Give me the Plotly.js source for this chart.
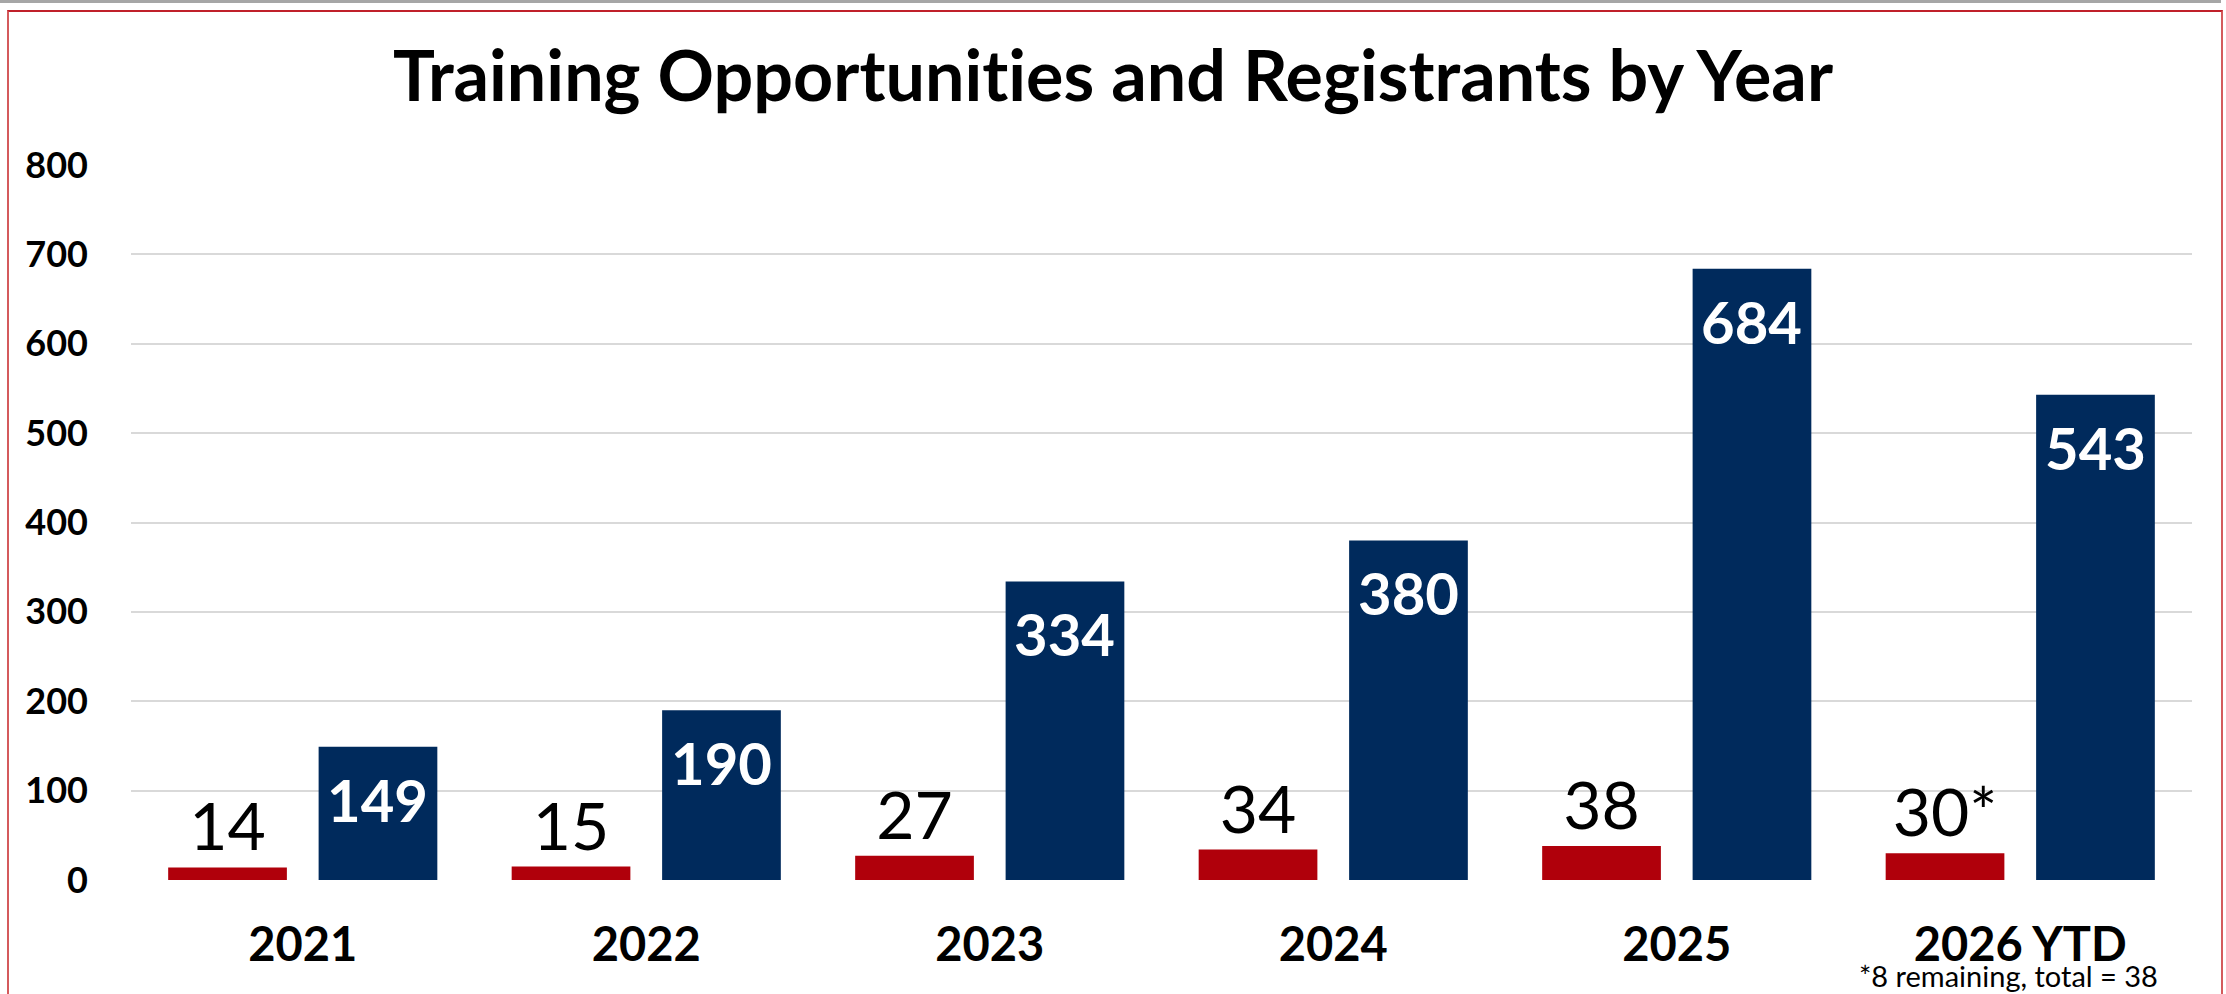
<!DOCTYPE html>
<html>
<head>
<meta charset="utf-8">
<script src="https://cdn.plot.ly/plotly-3.0.1.min.js"></script>
<style>
  html, body { margin: 0; padding: 0; background: #ffffff; overflow: hidden; }
  #topbar { position: absolute; left: 0; top: 0; width: 2221px; height: 3px; background: #A6A6A6; }
  #frame { position: absolute; left: 7px; top: 10px; width: 2212px; height: 1000px;
           border-left: 2px solid #D45A5C; border-right: 2px solid #D45A5C; border-top: 2px solid #C0202A; }
  #chart { position: absolute; left: 0; top: 0; width: 2226px; height: 994px; }
  svg text { font-variant-ligatures: none; font-feature-settings: "liga" 0, "clig" 0; }
</style>
</head>
<body>
<div id="topbar"></div>
<div id="frame"></div>
<div id="chart"></div>
<script>
const categories = ['2021', '2022', '2023', '2024', '2025', '2026 YTD'];
const opportunities = [14, 15, 27, 34, 38, 30];
const opportunityNotes = ['', '', '', '', '', '*'];
const registrants = [149, 190, 334, 380, 684, 543];
const yTicks = [0, 100, 200, 300, 400, 500, 600, 700, 800];
const chartTitle = 'Training Opportunities and Registrants by Year';
const footnote = '*8 remaining, total = 38';

const FONT = 'Lato, "Open Sans", sans-serif';

const W = 2226, H = 994;
const M = { l: 131, r: 34, t: 165, b: 114, pad: 0 };
const BARGAP = 0.124;

// horizontal offset of the second bar in each group, derived from the layout
const catWidth = (W - M.l - M.r) / categories.length;
const slotWidth = catWidth * (1 - BARGAP) / 2;
const groupShift = slotWidth / 2;

const traces = [
  {
    type: 'bar',
    name: 'Training Opportunities',
    x: categories,
    y: opportunities,
    text: opportunities.map((v, i) => String(v) + opportunityNotes[i]),
    textposition: 'outside',
    constraintext: 'none',
    cliponaxis: false,
    textfont: { family: FONT, size: 66, color: '#000000' },
    marker: { color: '#B0000B' },
    hoverinfo: 'x+y'
  },
  {
    type: 'bar',
    name: 'Registrants',
    x: categories,
    y: registrants,
    textposition: 'none',
    marker: { color: '#002A5C' },
    hoverinfo: 'x+y'
  }
];

const valueLabels = categories.map((c, i) => ({
  text: '<b>' + registrants[i] + '</b>',
  xref: 'x', yref: 'y',
  x: i, y: registrants[i],
  xanchor: 'center', yanchor: 'top',
  xshift: groupShift, yshift: -16,
  showarrow: false,
  font: { family: FONT, size: 58, color: '#FFFFFF' }
}));

const layout = {
  width: W,
  height: H,
  margin: M,
  paper_bgcolor: 'rgba(0,0,0,0)',
  plot_bgcolor: 'rgba(0,0,0,0)',
  showlegend: false,
  barmode: 'group',
  bargap: BARGAP,
  bargroupgap: 0.211,
  title: {
    text: '<b>' + chartTitle + '</b>',
    font: { family: FONT, size: 70, color: '#000000' },
    x: 0.5, xanchor: 'center',
    y: 0.9235, yanchor: 'middle'
  },
  xaxis: {
    type: 'category',
    categoryorder: 'array',
    categoryarray: categories,
    range: [-0.5, categories.length - 0.5],
    autorange: false,
    tickfont: { family: FONT, size: 47, color: '#000000', weight: 'bold' },
    ticks: '',
    ticklabelstandoff: 33,
    showgrid: false,
    zeroline: false,
    showline: false,
    fixedrange: true
  },
  yaxis: {
    range: [0, 800],
    autorange: false,
    tickvals: yTicks,
    ticktext: yTicks.map(String),
    tickfont: { family: FONT, size: 36, color: '#000000', weight: 'bold' },
    ticks: '',
    ticklabelstandoff: 42,
    showgrid: true,
    gridcolor: '#D9D9D9',
    gridwidth: 2,
    zeroline: false,
    showline: false,
    fixedrange: true
  },
  annotations: valueLabels.concat([
    {
      text: footnote,
      xref: 'paper', yref: 'paper',
      x: 0.9845, y: -0.1605,
      xanchor: 'right', yanchor: 'bottom',
      showarrow: false,
      font: { family: FONT, size: 29, color: '#000000' }
    }
  ])
};

Plotly.newPlot('chart', traces, layout, { displayModeBar: false, staticPlot: true });
</script>
</body>
</html>
